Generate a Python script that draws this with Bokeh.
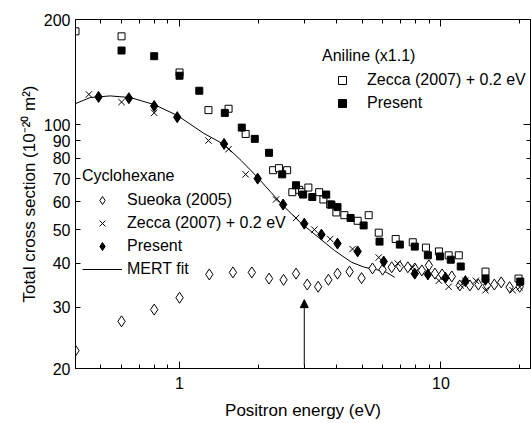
import numpy as np
from bokeh.plotting import figure
from bokeh.models import (Range1d, FixedTicker, LogAxis, Legend, LegendItem,
                          Arrow, NormalHead, PrintfTickFormatter)
from bokeh.embed import file_html
from bokeh.resources import INLINE

# ---------------- data ----------------
# Aniline (x1.1)
ani_zecca_x = [0.40, 0.60, 1.00, 1.29, 1.54, 1.79, 2.28, 2.40, 2.58, 2.70, 2.87, 2.94, 3.11,
               3.42, 3.55, 3.77, 3.98, 4.27, 4.80, 5.29, 5.78, 6.71, 7.80, 8.76, 9.82, 10.7,
               11.7, 14.8, 19.8]
ani_zecca_y = [185, 179, 141, 110, 111, 94, 74, 75, 74, 64, 65, 64, 66,
               64, 61, 59, 56, 55, 53, 55, 49, 47, 46, 44.4, 43.3, 42.2,
               42.2, 37.9, 36.2]

ani_present_x = [0.60, 0.80, 1.00, 1.19, 1.49, 1.73, 1.94, 2.20, 2.47, 2.79, 2.97, 3.22, 3.64,
                 3.81, 4.02, 4.51, 5.06, 5.82, 6.96, 7.94, 8.91, 9.91, 10.9, 11.9, 14.8, 20.1]
ani_present_y = [163, 157, 138, 125, 108, 98, 91, 83, 72, 67, 63, 62, 63,
                 59, 58, 54, 51.4, 46.2, 45.3, 44.7, 42.2, 41.9, 41.0, 39.2, 36.2, 35.5]

# Cyclohexane
cyc_sueoka_x = [0.40, 0.60, 0.80, 1.00, 1.30, 1.60, 1.89, 2.20, 2.50, 2.79, 3.08, 3.39, 3.71,
                4.02, 4.47, 4.97, 5.47, 5.98, 6.48, 6.96, 7.47, 7.94, 8.45, 8.99, 9.48, 10.1,
                11.0, 11.8, 12.9, 13.9, 15.0, 16.0, 17.0, 18.3, 20.0]
cyc_sueoka_y = [22.5, 27.3, 29.5, 31.9, 37.2, 37.7, 37.7, 36.2, 35.9, 37.4, 34.8, 34.3, 35.9,
                37.4, 37.9, 36.3, 38.7, 38.4, 39.0, 39.2, 39.0, 38.7, 38.2, 39.5, 37.4, 37.2,
                36.7, 34.6, 34.6, 34.8, 34.6, 34.8, 35.3, 34.2, 34.3]

cyc_zecca_x = [0.45, 0.60, 0.80, 1.29, 1.54, 1.79, 2.34, 2.79, 3.28, 3.77, 4.59, 5.78, 6.83,
               7.80, 9.82, 10.7, 11.9, 12.4, 13.6, 14.8, 18.8, 20.0]
cyc_zecca_y = [122, 116, 108, 90, 85, 72, 61, 54, 50, 47, 44, 41.6, 40.0,
               39.0, 35.7, 34.3, 34.6, 35.7, 35.7, 33.5, 33.5, 34.2]

cyc_present_x = [0.49, 0.64, 0.80, 0.98, 1.48, 1.99, 2.49, 3.00, 3.49, 4.02, 4.80, 6.04, 7.94,
                 8.91, 10.4, 12.4, 14.8, 20.0]
cyc_present_y = [120, 119, 113, 105, 88, 70, 59, 52, 48.4, 45.6, 43.3, 40.5, 37.4,
                 37.2, 36.4, 35.6, 35.9, 35.7]

mert_x = [0.40, 0.455, 0.543, 0.648, 0.80, 0.98, 1.24, 1.48, 1.72, 1.99, 2.24, 2.49, 2.92,
          3.40, 3.91, 4.55, 5.10, 5.67, 6.20, 6.65]
mert_y = [114.8, 119.5, 120.8, 119.5, 114.1, 106.2, 94.3, 87.7, 78.9, 70.5, 63.9, 58.6, 52.1,
          47.5, 43.6, 40.3, 39.0, 38.4, 37.7, 36.5]

# arrow marking 3 eV
arrow_x = 3.0
arrow_y0 = 20.4
arrow_y1 = 31.5

x_ticks = [1, 10]
x_minor = [0.5, 0.6, 0.7, 0.8, 0.9, 2, 3, 4, 5, 6, 7, 8, 9, 20]
y_ticks = [20, 30, 40, 50, 60, 70, 80, 90, 100, 200]
y_long = [20, 100, 200]
y_short = [30, 40, 50, 60, 70, 80, 90]

FONT = "Liberation Sans"

p = figure(width=531, height=423, x_axis_type="log", y_axis_type="log",
           x_range=Range1d(0.4, 22), y_range=Range1d(20, 200),
           output_backend="svg", toolbar_location=None,
           min_border_left=75, min_border_right=1, min_border_top=19,
           min_border_bottom=55)
p.grid.visible = False
p.outline_line_color = "black"
p.outline_line_width = 1
p.background_fill_color = "white"
p.border_fill_color = "white"

xa = p.xaxis[0]
xa.ticker = FixedTicker(ticks=x_ticks, minor_ticks=x_minor)
xa.formatter = PrintfTickFormatter(format="%d")
ya = p.yaxis[0]
ya.ticker = FixedTicker(ticks=y_ticks, minor_ticks=[])
ya.formatter = PrintfTickFormatter(format="%d")

for ax in (xa, ya):
    ax.major_tick_in = 7
    ax.major_tick_out = 0
    ax.minor_tick_in = 4
    ax.minor_tick_out = 0
    ax.axis_line_color = "black"
    ax.major_tick_line_color = "black"
    ax.minor_tick_line_color = "black"
    ax.major_label_text_font = FONT
    ax.major_label_text_font_size = "16px"
    ax.major_label_text_color = "black"
    ax.axis_label_text_font = FONT
    ax.axis_label_text_font_size = "17px"
    ax.axis_label_text_font_style = "normal"
    ax.axis_label_text_color = "black"
ya.major_tick_in = 5

xa.axis_label = "Positron energy (eV)"
xa.major_label_standoff = 8
xa.axis_label_standoff = 9
ya.axis_label = "Total cross section (10\u207b\u00b2\u2070 m\u00b2)"
ya.major_label_standoff = 5
ya.axis_label_standoff = 2

top = LogAxis(ticker=FixedTicker(ticks=x_ticks, minor_ticks=x_minor),
              major_label_text_font_size="1px", major_label_text_alpha=0,
              major_label_standoff=0,
              axis_line_color=None, major_tick_in=7, major_tick_out=0,
              minor_tick_in=4, minor_tick_out=0)
right = LogAxis(ticker=FixedTicker(ticks=y_long, minor_ticks=y_short),
                major_label_text_font_size="1px", major_label_text_alpha=0,
                major_label_standoff=0,
                axis_line_color=None, major_tick_in=7, major_tick_out=0,
                minor_tick_in=4, minor_tick_out=0)
p.add_layout(top, "above")
p.add_layout(right, "right")

# ---------------- glyphs ----------------
r_mert = p.line(mert_x, mert_y, line_color="black", line_width=1)
r_sue = p.scatter(cyc_sueoka_x, cyc_sueoka_y, marker="diamond", size=11,
                  fill_color="white", line_color="black", line_width=1)
r_czec = p.scatter(cyc_zecca_x, cyc_zecca_y, marker="x", size=9,
                   line_color="black", line_width=1)
r_cpre = p.scatter(cyc_present_x, cyc_present_y, marker="diamond", size=11,
                   fill_color="black", line_color="black", line_width=1)
r_azec = p.scatter(ani_zecca_x, ani_zecca_y, marker="square", size=7,
                   fill_color="white", line_color="black", line_width=1)
r_apre = p.scatter(ani_present_x, ani_present_y, marker="square", size=7,
                   fill_color="black", line_color="black", line_width=1)

p.add_layout(Arrow(end=NormalHead(size=8, fill_color="black", line_color="black"),
                   x_start=arrow_x, y_start=arrow_y0, x_end=arrow_x, y_end=arrow_y1,
                   line_color="black", line_width=1))


def make_legend(items, title, loc):
    lg = Legend(items=items, title=title, location=loc)
    lg.border_line_color = None
    lg.background_fill_alpha = 0
    lg.padding = 0
    lg.margin = 0
    lg.spacing = 3
    lg.label_height = 20
    lg.glyph_height = 20
    lg.glyph_width = 40
    lg.label_standoff = 5
    lg.title_standoff = 5
    lg.label_text_font = FONT
    lg.label_text_font_size = "16px"
    lg.label_text_color = "black"
    lg.title_text_font = FONT
    lg.title_text_font_size = "16px"
    lg.title_text_font_style = "normal"
    lg.title_text_color = "black"
    return lg


leg_c = make_legend([LegendItem(label="Sueoka (2005)", renderers=[r_sue]),
                     LegendItem(label="Zecca (2007) + 0.2 eV", renderers=[r_czec]),
                     LegendItem(label="Present", renderers=[r_cpre]),
                     LegendItem(label="MERT fit", renderers=[r_mert])],
                    "Cyclohexane", (7, 89))
leg_a = make_legend([LegendItem(label="Zecca (2007) + 0.2 eV", renderers=[r_azec]),
                     LegendItem(label="Present", renderers=[r_apre])],
                    "Aniline (x1.1)", (247, 255))
p.add_layout(leg_c)
p.add_layout(leg_a)

open("out.html", "w").write(file_html(p, INLINE))
